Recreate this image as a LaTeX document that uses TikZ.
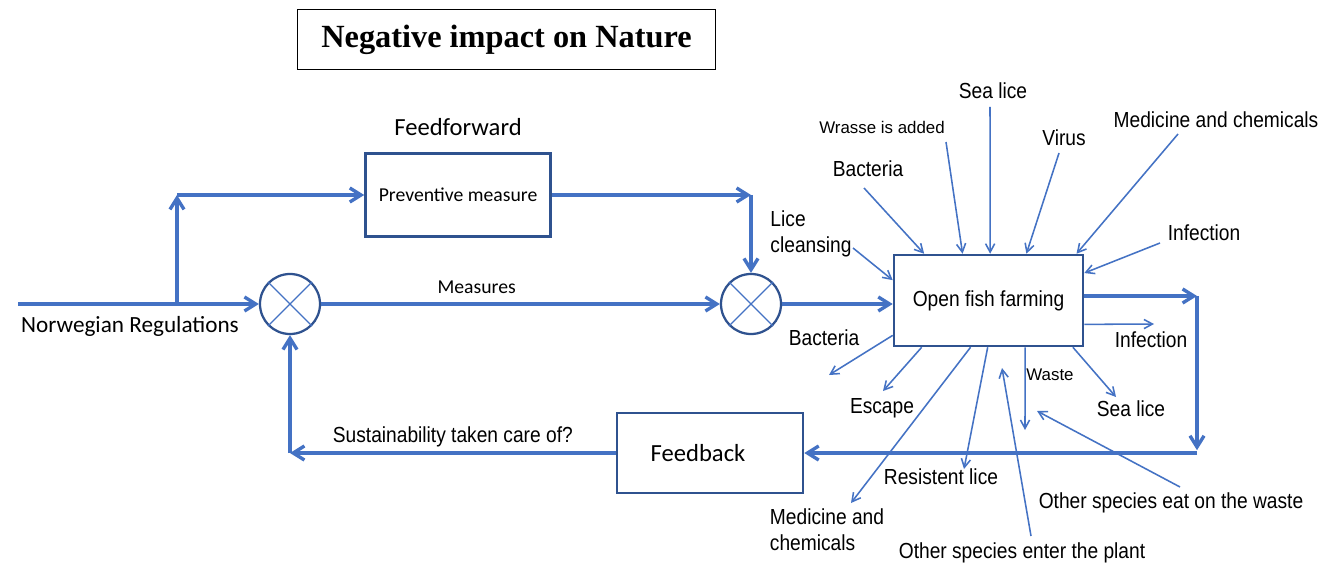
\documentclass[tikz,border=0pt]{standalone}
\usepackage{fontspec}
\setmainfont{Carlito}
\newfontfamily\narrowsans[FakeStretch=0.88]{Liberation Sans}
\newfontfamily\plainsans{Liberation Sans}
\newfontfamily\titleserif{Liberation Serif}
\usetikzlibrary{arrows.meta, positioning}
\definecolor{flowblue}{RGB}{68,114,196}
\definecolor{edgeblue}{RGB}{47,82,143}

\begin{document}
\begin{tikzpicture}[
  x=0.025cm, y=-0.025cm,
  every node/.style = {font=\fontsize{14pt}{17pt}\selectfont, text=black},
  block/.style = {draw=edgeblue, line width=1.8pt},
  junction/.style = {circle, draw=edgeblue, line width=1.6pt, minimum size=1.5cm, inner sep=0pt},
  factor/.style = {font=\narrowsans\fontsize{15.5pt}{18.5pt}\selectfont, align=left, inner sep=0pt},
  small/.style = {font=\plainsans\fontsize{12pt}{14pt}\selectfont, inner sep=0pt},
  mainflow/.style = {draw=flowblue, line width=2.4pt, -{Straight Barb[length=8pt, width=10pt]}},
  effect/.style = {draw=flowblue, line width=1.1pt, -{Straight Barb[length=6pt, width=6.5pt]}},
  cross/.style = {draw=flowblue, line width=0.9pt}
]
  \fill[white] (0,0) rectangle (1340,564);
  \useasboundingbox (0,0) rectangle (1340,564);

  \node[draw, line width=0.7pt, minimum width=10.425cm, minimum height=1.475cm,
        font=\titleserif\bfseries\fontsize{23pt}{27pt}\selectfont] (title) at (506.5,39.5) {Negative impact on Nature};

  % control loop
  \node[block, minimum width=4.625cm, minimum height=2.075cm] (pm) at (458,195) {Preventive measure};
  \node[font=\fontsize{17.5pt}{20pt}\selectfont, above=0.3cm of pm] (ffw) {Feedforward};
  \node[junction] (s1) at (290,304) {};
  \node[junction] (s2) at (751,304) {};
  \draw[cross] (s1.45) -- (s1.225) (s1.135) -- (s1.315);
  \draw[cross] (s2.45) -- (s2.225) (s2.135) -- (s2.315);
  \node[block, minimum width=4.725cm, minimum height=2.275cm, factor, inner sep=0.3em] (fish) at (988.5,300.5) {Open fish farming};
  \node[block, minimum width=4.65cm, minimum height=2cm, font=\fontsize{17.5pt}{20pt}\selectfont] (fback) at (710,453) {Feedback\hspace*{0.6cm}};
  \node[font=\fontsize{16.5pt}{19pt}\selectfont] (reg) at (130,326) {Norwegian Regulations};

  \coordinate (in) at (18,304);
  \coordinate (br) at (177,304);
  \coordinate (bt) at (177,195);
  \coordinate (ff) at (751,195);
  \coordinate (fo) at (1197,296);
  \coordinate (fb) at (1197,453);
  \coordinate (sb) at (290,453);

  \draw[mainflow] (in) -- (s1);
  \draw[mainflow] (br) -- (bt);
  \draw[mainflow] (bt) -- (pm);
  \draw[mainflow] (pm) -- (ff);
  \draw[mainflow] (ff) -- (s2);
  \draw[mainflow] (s1) -- node[pos=0.39, above=3pt] (meas) {Measures} (s2);
  \draw[mainflow] (s2) -- (s2 -| fish.west);
  \draw[mainflow] (fish.east |- fo) -- (fo);
  \draw[mainflow, shorten >=2pt] (fo) -- (fb);
  \draw[mainflow] (fb) -- (fback);
  \draw[mainflow] (fback) -- node[pos=0.5, above=3pt, factor] (sust) {Sustainability taken care of?} (sb);
  \draw[mainflow] (sb) -- (s1);

  % what goes into the farm
  \node[factor] (liceT) at (811,234) {Lice\\cleansing};
  \node[factor] (bactT) at (868,169) {Bacteria};
  \node[small] (wrasse) at (882,127) {Wrasse is added};
  \node[factor] (seaT) at (993,91) {Sea lice};
  \node[factor] (virus) at (1064,138) {Virus};
  \node[factor] (medT) at (1216,120) {Medicine and chemicals};
  \node[factor] (infT) at (1204,233) {Infection};

  \coordinate (cLice) at (853,248);
  \coordinate (cBactT) at (864,188);
  \coordinate (cWrasse) at (946,142);
  \coordinate (cSeaT) at (990,107);
  \coordinate (cVirus) at (1059,153);
  \coordinate (cMedT) at (1178,134);
  \coordinate (cInfT) at (1160,243);

  \draw[effect] (cLice) -- (fish.168.3);
  \draw[effect] (cBactT) -- (fish.144.4);
  \draw[effect] (cWrasse) -- (fish.119.3);
  \draw[effect] (cSeaT) -- (fish.88.1);
  \draw[effect] (cVirus) -- (fish.51.3);
  \draw[effect] (cMedT) -- (fish.28.6);
  \draw[effect] (cInfT) -- (fish.16.2);

  % what comes out of it
  \node[factor] (infB) at (1151,340) {Infection};
  \node[factor] (bactB) at (824,338) {Bacteria};
  \node[factor] (escape) at (882,408) {Escape};
  \node[factor] (medB) at (827,530) {Medicine and\\chemicals};
  \node[factor] (resist) at (941,477) {Resistent lice};
  \node[small] (waste) at (1050,375) {Waste};
  \node[factor] (seaB) at (1131,409) {Sea lice};
  \node[factor] (enter) at (1022,553) {Other species enter the plant};
  \node[factor] (eat) at (1171,503) {Other species eat on the waste};

  \coordinate (cInfB) at (1154,324);
  \coordinate (cBactB) at (829,375);
  \coordinate (cEscape) at (883,391);
  \coordinate (cMedB) at (851,503);
  \coordinate (cRes) at (964,469);
  \coordinate (cWaste) at (1025,430);
  \coordinate (cSeaB) at (1116,397);
  \coordinate (cEnterS) at (1031,536);
  \coordinate (cEnterE) at (1002,368);
  \coordinate (cEatS) at (1180,487);
  \coordinate (cEatE) at (1037,411);

  \draw[effect] (fish.346) -- (cInfB);
  \draw[effect] (fish.200.1) -- (cBactB);
  \draw[effect] (fish.215.2) -- (cEscape);
  \draw[effect] (fish.249) -- (cMedB);
  \draw[effect] (fish.269.4) -- (cRes);
  \draw[effect] (fish.308.7) -- (cWaste);
  \draw[effect] (fish.331.4) -- (cSeaB);
  \draw[effect] (cEnterS) -- (cEnterE);
  \draw[effect] (cEatS) -- (cEatE);
\end{tikzpicture}
\end{document}
